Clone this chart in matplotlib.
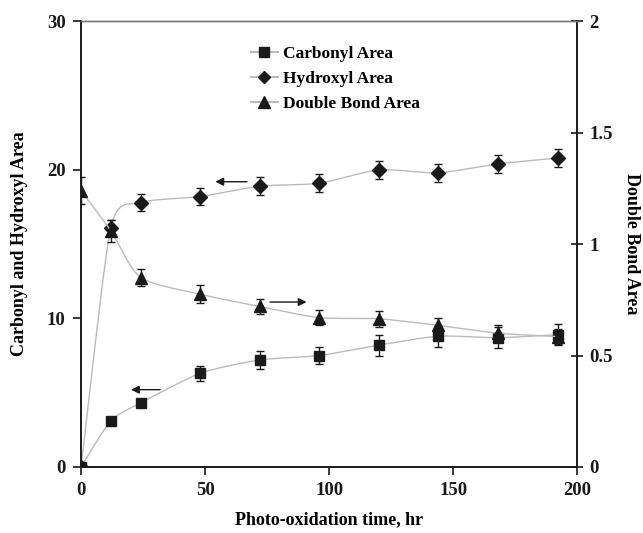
import numpy as np
import matplotlib
matplotlib.use("Agg")
import matplotlib.pyplot as plt

plt.rcParams['font.family'] = ['Liberation Serif', 'DejaVu Serif']
plt.rcParams['font.weight'] = 'bold'

# 数据
t = [0, 12, 24, 48, 72, 96, 120, 144, 168, 192]
carbonyl = [0, 3.1, 4.3, 6.3, 7.2, 7.5, 8.2, 8.8, 8.7, 8.9]
carbonyl_err = [0.1, 0.2, 0.3, 0.5, 0.6, 0.6, 0.7, 0.7, 0.7, 0.7]
hydroxyl = [0, 16.1, 17.8, 18.2, 18.9, 19.1, 20.0, 19.8, 20.4, 20.8]
hydroxyl_err = [0.1, 0.5, 0.55, 0.55, 0.6, 0.6, 0.6, 0.6, 0.6, 0.6]
double_bond = [1.24, 1.06, 0.85, 0.775, 0.72, 0.67, 0.665, 0.635, 0.60, 0.585]
double_bond_err = [0.06, 0.05, 0.04, 0.04, 0.035, 0.035, 0.035, 0.035, 0.035, 0.035]


def smooth(x, y, n=20, k=0.7):
    # 平滑连线 (Hermite, 类似 Excel 的平滑线), k 是切线系数
    x = np.asarray(x, float)
    y = np.asarray(y, float)
    px = np.concatenate([[2 * x[0] - x[1]], x, [2 * x[-1] - x[-2]]])
    py = np.concatenate([[2 * y[0] - y[1]], y, [2 * y[-1] - y[-2]]])
    xs, ys = [], []
    s = np.linspace(0, 1, n)
    h00 = 2 * s ** 3 - 3 * s ** 2 + 1
    h10 = s ** 3 - 2 * s ** 2 + s
    h01 = -2 * s ** 3 + 3 * s ** 2
    h11 = s ** 3 - s ** 2
    for i in range(1, len(px) - 2):
        for p, out in ((px, xs), (py, ys)):
            m1 = k * (p[i + 1] - p[i - 1]) / 2
            m2 = k * (p[i + 2] - p[i]) / 2
            out.extend(h00 * p[i] + h10 * m1 + h01 * p[i + 1] + h11 * m2)
    return xs, ys


fig = plt.figure(figsize=(6.43, 5.33), dpi=100)
ax = fig.add_axes([0.126, 0.124, 0.772, 0.836])
ax2 = ax.twinx()

gray = '#bbbbbb'
ax.plot(*smooth(t, carbonyl), color=gray, lw=1, zorder=1)
ax.plot(*smooth(t, hydroxyl), color=gray, lw=1, zorder=1)
ax2.plot(*smooth(t, double_bond), color=gray, lw=1, zorder=1)

ax.errorbar(t, carbonyl, yerr=carbonyl_err, fmt='s', color='#1a1a1a', ms=7,
            ecolor='#1a1a1a', elinewidth=1, capsize=3, zorder=3)
ax.errorbar(t, hydroxyl, yerr=hydroxyl_err, fmt='D', color='#1a1a1a', ms=7,
            ecolor='#1a1a1a', elinewidth=1, capsize=3, zorder=3)
ax2.errorbar(t, double_bond, yerr=double_bond_err, fmt='^', color='#1a1a1a', ms=9,
             ecolor='#1a1a1a', elinewidth=1, capsize=3, zorder=3)

# 图例
h1 = plt.Line2D([], [], color=gray, marker='s', ms=7, mfc='#1a1a1a', mec='#1a1a1a')
h2 = plt.Line2D([], [], color=gray, marker='D', ms=6, mfc='#1a1a1a', mec='#1a1a1a')
h3 = plt.Line2D([], [], color=gray, marker='^', ms=8, mfc='#1a1a1a', mec='#1a1a1a')
ax.legend([h1, h2, h3], ['Carbonyl Area', 'Hydroxyl Area', 'Double Bond Area'],
          loc='upper left', bbox_to_anchor=(0.31, 0.98), frameon=False,
          handlelength=1.6, handletextpad=0.25, labelspacing=0.5,
          prop={'weight': 'bold', 'size': 12.5})

# 箭头
arr = dict(arrowstyle='-|>', color='#1a1a1a', lw=1, mutation_scale=12)
ax.annotate('', xy=(53, 19.2), xytext=(68, 19.2), arrowprops=arr)
ax.annotate('', xy=(92, 11.1), xytext=(75, 11.1), arrowprops=arr)
ax.annotate('', xy=(19, 5.2), xytext=(33, 5.2), arrowprops=arr)

ax.set_xlim(0, 200)
ax.set_ylim(0, 30)
ax2.set_ylim(0, 2)
ax.set_xticks([0, 50, 100, 150, 200])
ax.set_yticks([0, 10, 20, 30])
ax2.set_yticks([0, 0.5, 1, 1.5, 2])
ax2.set_yticklabels(['0', '0.5', '1', '1.5', '2'])

for a in (ax, ax2):
    for sp in a.spines.values():
        sp.set_linewidth(1.2)
        sp.set_color('#1a1a1a')
    a.spines['top'].set_color('#777777')
    a.spines['top'].set_linewidth(1)

ax.tick_params(axis='both', labelsize=13.5, width=1.2, length=6, colors='#1a1a1a', pad=5)
ax2.tick_params(axis='y', labelsize=13.5, width=1.2, length=9, direction='inout',
                colors='#1a1a1a', pad=4)
for lab in ax.get_xticklabels() + ax.get_yticklabels() + ax2.get_yticklabels():
    lab.set_fontweight('bold')

ax.set_xlabel('Photo-oxidation time, hr', fontsize=13, fontweight='bold', labelpad=9)
ax.set_ylabel('Carbonyl and Hydroxyl Area', fontsize=13, fontweight='bold', labelpad=14)
ax2.set_ylabel('Double Bond Area', fontsize=13, fontweight='bold', rotation=-90, labelpad=20)

fig.savefig('out.png', dpi=100)
